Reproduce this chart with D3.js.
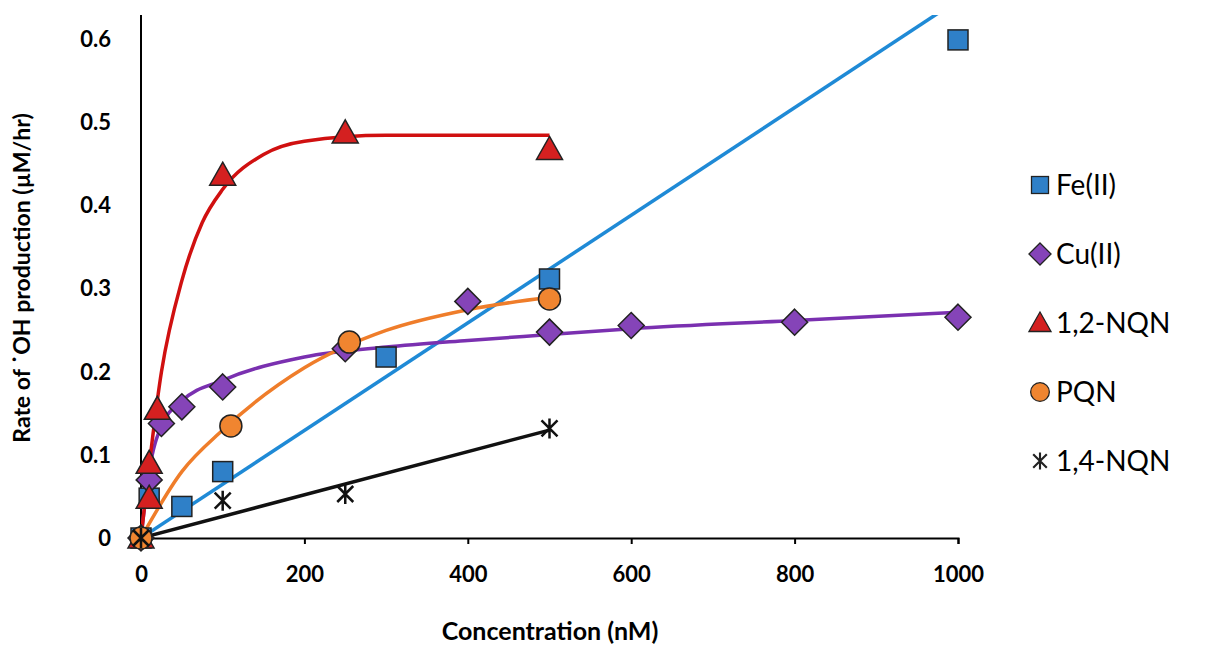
<!DOCTYPE html>
<html><head><meta charset="utf-8">
<script src="https://cdn.jsdelivr.net/npm/d3@7"></script>
<style>body{margin:0;background:#fff}text{font-family:Lato,"Open Sans",sans-serif}</style>
</head><body><svg id="c" width="1218" height="647"></svg>
<script>
var xTicks = [0, 200, 400, 600, 800, 1000];
var yTicks = [0, 0.1, 0.2, 0.3, 0.4, 0.5, 0.6];

var fePts = [[0,0],[10,0.048],[50,0.038],[100,0.08],[300,0.218],[500,0.312],[1000,0.6]];
var feLine = [[0,0],[1000,0.648]];
var cuPts = [[0,0],[10,0.07],[25,0.138],[50,0.158],[100,0.182],[250,0.228],[400,0.285],[500,0.248],[600,0.256],[800,0.26],[1000,0.266]];
var cuLine = [[0,0],[10,0.08],[25,0.135],[50,0.165],[100,0.19],[200,0.218],[300,0.23],[400,0.238],[500,0.245],[600,0.252],[800,0.262],[1000,0.272]];
var nq12Pts = [[0,0],[10,0.048],[10,0.09],[20,0.155],[100,0.437],[250,0.488],[500,0.468]];
var nq12Line = [[0,0],[25,0.2],[50,0.31],[75,0.38],[100,0.42],[150,0.462],[200,0.478],[300,0.485],[500,0.485]];
var pqnPts = [[0,0],[110,0.135],[255,0.236],[500,0.288]];
var pqnLine = [[0,0],[50,0.08],[100,0.13],[200,0.205],[300,0.25],[400,0.275],[500,0.29]];
var nq14Pts = [[0,0],[100,0.045],[250,0.053],[500,0.132]];
var nq14Line = [[0,0],[500,0.13]];

var svg = d3.select("#c");
var x = d3.scaleLinear().domain([0,1000]).range([141,958]);
var y = d3.scaleLinear().domain([0,0.63]).range([538,15]);

svg.append("defs").append("clipPath").attr("id","clip")
  .append("rect").attr("x",141).attr("y",15).attr("width",830).attr("height",523);

// axes
var ax = svg.append("g").attr("transform","translate(0,538)")
  .call(d3.axisBottom(x).tickValues(xTicks).tickSize(6).tickFormat(d3.format("d")).tickPadding(22));
var ay = svg.append("g").attr("transform","translate(141,0)")
  .call(d3.axisLeft(y).tickValues(yTicks).tickSize(0).tickPadding(30).tickFormat(function(d){return d===0?"0":d3.format(".1f")(d);}));
[ax, ay].forEach(function(a){
  a.select(".domain").attr("stroke","#000").attr("stroke-width",2);
  a.selectAll("line").attr("stroke","#000").attr("stroke-width",2);
  a.selectAll("text").attr("font-size",22).attr("font-weight","bold").attr("fill","#000");
});
ay.select(".domain").attr("d","M0,15V538");

var line = d3.line().x(function(d){return x(d[0]);}).y(function(d){return y(d[1]);}).curve(d3.curveMonotoneX);
var g = svg.append("g").attr("clip-path","url(#clip)");
function drawLine(data, col){ g.append("path").datum(data).attr("d",line).attr("fill","none").attr("stroke",col).attr("stroke-width",3.5); }
drawLine(feLine,"#1f8ad6");
drawLine(cuLine,"#7a30b0");
drawLine(nq12Line,"#d01010");
drawLine(pqnLine,"#ef7d2a");
drawLine(nq14Line,"#111");

// error bar on Cu 500
svg.append("line").attr("x1",x(500)).attr("x2",x(500)).attr("y1",y(0.232)).attr("y2",y(0.264)).attr("stroke","#444").attr("stroke-width",1.5);

var shapes = {
  sq: function(s){ s.append("rect").attr("x",-10).attr("y",-10).attr("width",20).attr("height",20); },
  di: function(s){ s.append("path").attr("d","M0,-13L13,0L0,13L-13,0Z"); },
  tr: function(s){ s.append("path").attr("d","M0,-13L13,10L-13,10Z"); },
  ci: function(s){ s.append("circle").attr("r",11); },
  st: function(s){ s.append("path").attr("d","M-8,-8L8,8M-8,8L8,-8M0,-10V10").attr("stroke-width",2.5); }
};
function drawPts(data, kind, fill){
  data.forEach(function(d){
    var s = svg.append("g").attr("transform","translate("+x(d[0])+","+y(d[1])+")")
      .attr("fill",fill).attr("stroke",kind==="st"?"#111":"#222").attr("stroke-width",1.5);
    shapes[kind](s);
  });
}
drawPts(fePts,"sq","#2f80c8");
drawPts(cuPts,"di","#8544b8");
drawPts(nq12Pts,"tr","#d42020");
drawPts(pqnPts,"ci","#f08530");
drawPts(nq14Pts,"st","none");

var legNames = ["Fe(II)","Cu(II)","1,2-NQN","PQN","1,4-NQN"];
var legKinds = ["sq","di","tr","ci","st"];
var legFills = ["#2f80c8","#8544b8","#d42020","#f08530","none"];
legNames.forEach(function(n,i){
  var yy = 185 + i*69;
  var s = svg.append("g").attr("transform","translate(1040,"+yy+") scale(0.85)")
    .attr("fill",legFills[i]).attr("stroke","#222").attr("stroke-width",1.5);
  shapes[legKinds[i]](s);
  svg.append("text").attr("x",1056).attr("y",yy+10).attr("font-size",28).text(n);
});

svg.append("text").attr("x",550).attr("y",640).attr("text-anchor","middle")
  .attr("font-size",25).attr("font-weight","bold").text("Concentration (nM)");
svg.append("text").attr("transform","translate(30,278) rotate(-90)").attr("text-anchor","middle")
  .attr("font-size",23).attr("font-weight","bold").text("Rate of ˙OH production (µM/hr)");
</script></body></html>
